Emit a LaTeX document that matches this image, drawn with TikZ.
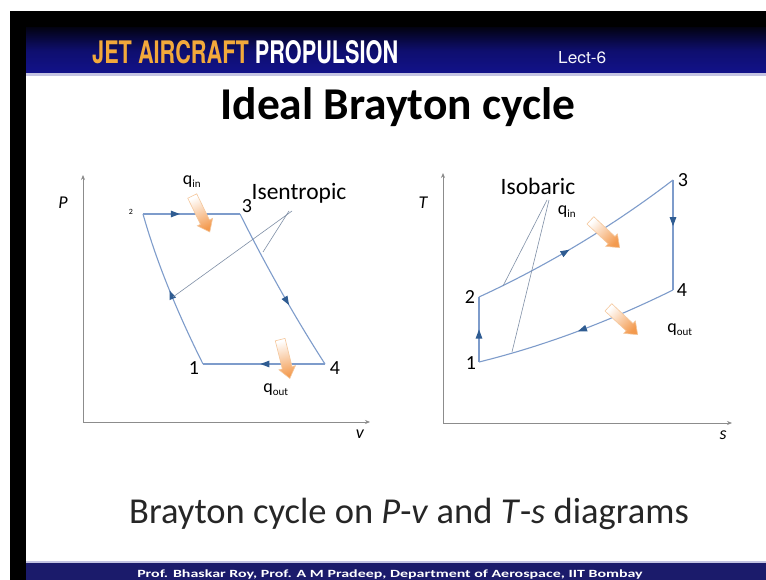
\documentclass[tikz,border=0pt]{standalone}
\usepackage{fontspec}
\setmainfont{Carlito}
\newfontfamily\heros{TeX Gyre Heros}
\usepackage{graphicx}
\usetikzlibrary{arrows.meta,decorations.markings}

\definecolor{cyc}{HTML}{7E9CCB}
\definecolor{cychead}{HTML}{2F5C92}
\definecolor{axisc}{HTML}{8C8C8C}
\definecolor{leadc}{HTML}{7F8FA6}
\definecolor{heatc}{HTML}{F39A4E}
\definecolor{heatb}{HTML}{F5C79C}
\definecolor{gold}{HTML}{F2A93B}
\definecolor{navy}{HTML}{12128A}
\definecolor{footc}{HTML}{1B1B6B}
\definecolor{lav}{HTML}{C4C4E2}

\tikzset{
  cycleline/.style={draw=cyc, line width=1.1pt},
  midarrow/.style={postaction={decorate}, decoration={markings,
      mark=at position #1 with {\arrow[color=cychead]{Triangle[length=9pt,width=6.5pt]}}}},
  axisline/.style={draw=axisc, line width=0.7pt},
  axistip/.tip={Stealth[length=5pt,width=4pt]},
  lead/.style={draw=leadc, line width=0.6pt},
  num/.style={font=\fontsize{20}{22}\selectfont, inner sep=0pt},
  axlab/.style={font=\itshape\fontsize{18}{20}\selectfont, inner sep=0pt},
  annot/.style={font=\fontsize{23.5}{26}\selectfont, inner sep=0pt},
  qlab/.style={font=\fontsize{18}{20}\selectfont, inner sep=0pt},
  heatarrow/.style={draw=heatb, line width=0.6pt, top color=white, bottom color=heatc, shading angle=#1}
}
\newcommand{\qsub}[1]{q\textsubscript{\fontsize{11}{12}\selectfont #1}}
% #1 centre, #2 rotation, #3 shading angle
\newcommand{\heatshape}[3]{%
  \begin{scope}[shift={#1}, rotate=#2]
    \shade[heatarrow=#3] (-20,-5) -- (9,-5) -- (9,-8.5) -- (20,0) -- (9,8.5) -- (9,5) -- (-20,5) -- cycle;
  \end{scope}}

\begin{document}
\begin{tikzpicture}[x=1pt,y=-1pt]
\useasboundingbox (0,0) rectangle (766,580);
\clip (0,0) rectangle (766,580);
% slide frame
\fill[black] (10,11) rectangle (766,580);
\fill[white] (26,76) rectangle (766,562);
\shade[top color=black!85!navy, bottom color=navy, middle color=navy!80!black] (26,28) rectangle (766,73);
\fill[lav] (26,73) rectangle (766,76);
\fill[footc] (26,562) rectangle (766,580);
\fill[lav] (26,561) rectangle (766,563);

% header texts
\node[anchor=south west, inner sep=0pt] (hdr) at (92,64)
  {\resizebox{306pt}{23pt}{\heros\bfseries\textcolor{gold}{JET AIRCRAFT} \textcolor{white}{PROPULSION}}};
\node[anchor=south west, inner sep=0pt] (lect) at (558,64)
  {\resizebox{48pt}{12pt}{\heros\textcolor{white!85!lav}{Lect-6}}};

% title and caption
\node[anchor=base, inner sep=0pt, font=\bfseries\fontsize{45.5}{50}\selectfont] (title) at (398,120) {Ideal Brayton cycle};
\node[anchor=base, inner sep=0pt, font=\fontsize{36.5}{40}\selectfont, text=black!85] (caption) at (409,523)
  {Brayton cycle on \textit{P}-\textit{v} and \textit{T}-\textit{s} diagrams};
\node[anchor=base, inner sep=0pt, text=white] (foot) at (390,577)
  {\scalebox{1.45}[1]{\bfseries\fontsize{11}{12}\selectfont Prof. Bhaskar Roy, Prof. A M Pradeep, Department of Aerospace, IIT Bombay}};

% ---------------- P-v diagram ----------------
\coordinate (pvO) at (83,422);
\coordinate (pvY) at (83,175);
\coordinate (pvX) at (370,422);
\draw[axisline, axistip-axistip] (pvY) -- (pvO) -- (pvX);
\node[axlab] (pvP) at (63,203) {P};
\node[axlab] (pvV) at (360,434) {v};

\coordinate (p1) at (203,364);
\coordinate (p2) at (143,214);
\coordinate (p3) at (240,214);
\coordinate (p4) at (325,364);
\draw[cycleline, midarrow=0.38] (p2) -- (p3);
\draw[cycleline, midarrow=0.6] (p3) .. controls (265,264) and (294,316) .. (p4);
\draw[cycleline, midarrow=0.53] (p4) -- (p1);
\draw[cycleline, midarrow=0.5] (p1) .. controls (179,316) and (157,264) .. (p2);

\node[num] (pl1) at (194,368) {1};
\node[inner sep=0pt, font=\fontsize{8}{9}\selectfont] (pl2) at (131,212) {2};
\node[num] (pl3) at (247,206) {3};
\node[num] (pl4) at (335,368) {4};

\node[annot] (isen) at (299,193) {Isentropic};
\coordinate (isenA) at (292,211);
\coordinate (isenB) at (289,211);
\coordinate (pvL1) at (173,297);
\coordinate (pvL2) at (263,252);
\draw[lead] (isenA) -- (pvL1);
\draw[lead] (isenB) -- (pvL2);

\heatshape{(201,214)}{-64}{26}
\heatshape{(285,359)}{-76}{14}
\node[qlab] (pvqinl) at (192,182) {\qsub{in}};
\node[qlab] (pvqoutl) at (276,390) {\qsub{out}};

% ---------------- T-s diagram ----------------
\coordinate (tsO) at (443,423);
\coordinate (tsY) at (443,173);
\coordinate (tsX) at (732,423);
\draw[axisline, axistip-axistip] (tsY) -- (tsO) -- (tsX);
\node[axlab] (tsT) at (423,203) {T};
\node[axlab] (tsS) at (723,435) {s};

\coordinate (t1) at (479,362);
\coordinate (t2) at (479,297);
\coordinate (t3) at (673,180);
\coordinate (t4) at (673,290);
\draw[cycleline, midarrow=0.5] (t1) -- (t2);
\draw[cycleline, midarrow=0.45] (t2) .. controls (542,268) and (609,229) .. (t3);
\draw[cycleline, midarrow=0.42] (t3) -- (t4);
\draw[cycleline, midarrow=0.5] (t4) .. controls (608,322) and (544,346) .. (t1);

\node[num] (tl1) at (471,363) {1};
\node[num] (tl2) at (470,297) {2};
\node[num] (tl3) at (683,180) {3};
\node[num] (tl4) at (682,290) {4};

\node[annot] (isob) at (538,186) {Isobaric};
\coordinate (isobA) at (547,200);
\coordinate (isobB) at (549,200);
\coordinate (tsL1) at (503,286);
\coordinate (tsL2) at (512,352);
\draw[lead] (isobA) -- (tsL1);
\draw[lead] (isobB) -- (tsL2);

\heatshape{(605,234)}{-43}{47}
\heatshape{(623,321)}{-43}{47}
\node[qlab] (tsqinl) at (567,212) {\qsub{in}};
\node[qlab] (tsqoutl) at (680,330) {\qsub{out}};
\end{tikzpicture}
\end{document}
